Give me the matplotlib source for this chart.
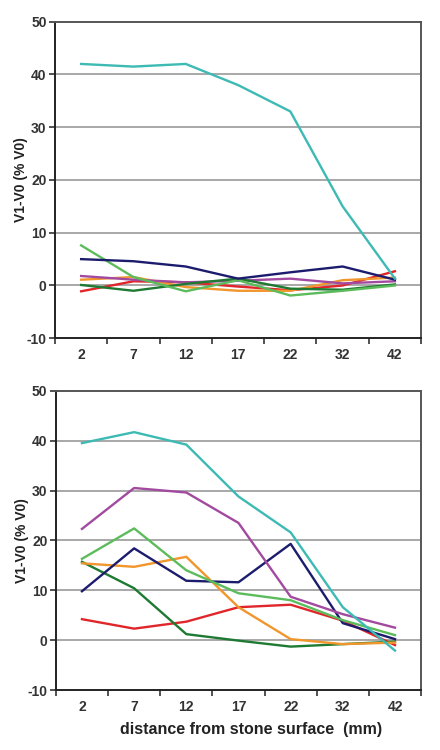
import numpy as np
import matplotlib
matplotlib.use("Agg")
import matplotlib.pyplot as plt

plt.rcParams['font.family'] = ['Liberation Sans Narrow', 'Liberation Sans', 'DejaVu Sans']
plt.rcParams['axes.unicode_minus'] = False

# distance categories (mm)
distances = ["2", "7", "12", "17", "22", "32", "42"]

# upper panel series
top_cyan = [42, 41.5, 42, 38, 33, 15, 1.3]
top_navy = [5.0, 4.6, 3.6, 1.3, 2.5, 3.6, 1.1]
top_lgreen = [7.6, 1.6, -1.1, 1.0, -1.9, -1.0, 0.0]
top_dgreen = [0.1, -1.0, 0.3, 1.3, -0.6, -0.8, 0.2]
top_purple = [1.8, 1.1, 0.6, 0.9, 1.3, 0.4, 0.8]
top_orange = [1.1, 1.6, -0.3, -1.0, -1.0, 1.0, 1.5]
top_red = [-1.1, 0.8, 0.6, -0.2, -0.9, 0.0, 2.7]

# lower panel series
bot_cyan = [39.5, 41.7, 39.2, 28.8, 21.6, 6.6, -2.1]
bot_purple = [22.3, 30.5, 29.6, 23.5, 8.7, 5.2, 2.5]
bot_lgreen = [16.3, 22.4, 14.0, 9.4, 8.0, 4.0, 1.0]
bot_navy = [9.8, 18.4, 11.9, 11.6, 19.3, 3.4, 0.2]
bot_orange = [15.4, 14.7, 16.7, 6.6, 0.2, -0.8, -0.5]
bot_dgreen = [15.7, 10.4, 1.2, -0.1, -1.3, -0.8, -0.3]
bot_red = [4.2, 2.3, 3.7, 6.6, 7.1, 3.9, -1.0]

c_cyan = "#3cbab3"
c_navy = "#1c1c6e"
c_lgreen = "#5cbc5c"
c_dgreen = "#1e7a32"
c_purple = "#a24aa0"
c_orange = "#f0962c"
c_red = "#e0262a"

fig = plt.figure(figsize=(4.4, 7.5), dpi=100)
ax1 = fig.add_axes([0.125, 0.549, 0.832, 0.422])
ax2 = fig.add_axes([0.127, 0.080, 0.830, 0.399])

x = np.arange(len(distances))


def style_axis(ax):
    ax.set_xlim(-0.5, len(distances) - 0.5)
    ax.set_ylim(-10, 50)
    ax.set_yticks(range(-10, 51, 10))
    ax.set_xticks(x)
    ax.set_xticklabels(distances)
    ax.set_xticks(np.arange(-0.5, len(distances), 1.0), minor=True)
    ax.tick_params(axis='x', which='major', length=0, pad=7)
    ax.tick_params(axis='x', which='minor', length=4, width=1.2, color="#333333")
    ax.tick_params(axis='y', length=4, width=1.2, color="#333333", pad=2)
    for lab in ax.get_xticklabels() + ax.get_yticklabels():
        lab.set_fontsize(10)
        lab.set_fontweight('bold')
        lab.set_color("#333333")
    for yv in range(0, 50, 10):
        ax.axhline(yv, color="#9a9a9a", lw=1.2, zorder=0)
    ax.spines['left'].set_color("#222222")
    ax.spines['bottom'].set_color("#222222")
    ax.spines['top'].set_color("#555555")
    ax.spines['right'].set_color("#555555")
    for s in ax.spines.values():
        s.set_linewidth(1.4)
    ax.set_ylabel("V1-V0 (% V0)", fontsize=10, fontweight='bold', color="#222222",
                  family=['Liberation Sans', 'DejaVu Sans'], labelpad=-1)


lw = 1.7
for ys, col in [(top_red, c_red), (top_orange, c_orange), (top_purple, c_purple),
                (top_dgreen, c_dgreen), (top_lgreen, c_lgreen), (top_navy, c_navy),
                (top_cyan, c_cyan)]:
    ax1.plot(x, ys, color=col, lw=lw)
style_axis(ax1)

for ys, col in [(bot_red, c_red), (bot_dgreen, c_dgreen), (bot_orange, c_orange),
                (bot_navy, c_navy), (bot_lgreen, c_lgreen), (bot_purple, c_purple),
                (bot_cyan, c_cyan)]:
    ax2.plot(x, ys, color=col, lw=lw)
style_axis(ax2)
ax2.set_xlabel("distance from stone surface  (mm)", fontsize=11.5, fontweight='bold',
               color="#222222", labelpad=5)
ax2.xaxis.set_label_coords(0.535, -0.107)

fig.savefig("out.png", dpi=100, facecolor="white")
